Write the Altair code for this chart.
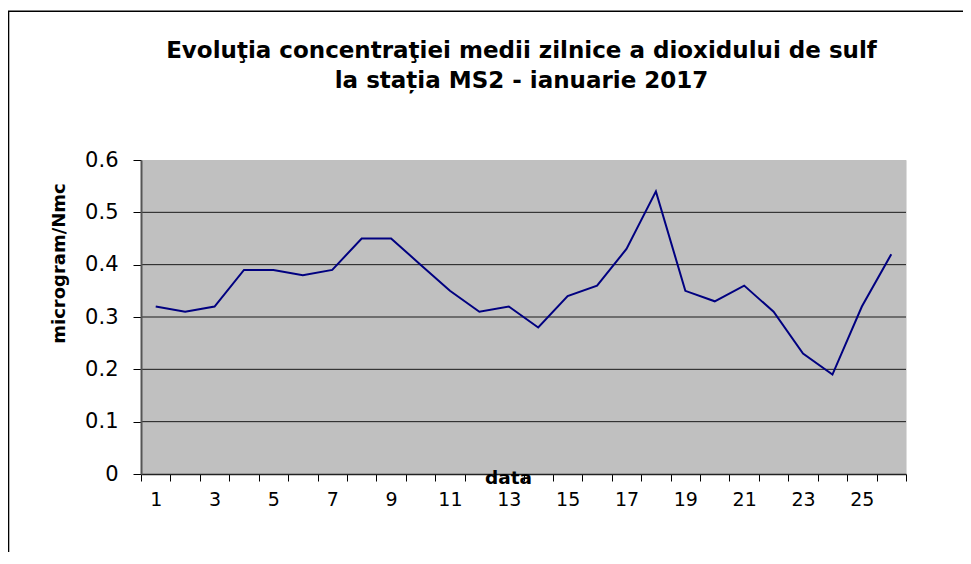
import altair as alt
import pandas as pd

# ---- data ----
days = list(range(1, 27))
so2 = [0.32, 0.31, 0.32, 0.39, 0.39, 0.38, 0.39, 0.45, 0.45, 0.40,
       0.35, 0.31, 0.32, 0.28, 0.34, 0.36, 0.43, 0.54, 0.35, 0.33,
       0.36, 0.31, 0.23, 0.19, 0.32, 0.42]
y_ticks = [0, 0.1, 0.2, 0.3, 0.4, 0.5, 0.6]
grid_vals = [0.1, 0.2, 0.3, 0.4, 0.5]
title_lines = ["Evoluţia concentraţiei medii zilnice a dioxidului de sulf",
               "la stația MS2 - ianuarie 2017"]
x_title = "data"
y_title = "microgram/Nmc"

df = pd.DataFrame({"day": days, "val": so2})
grid_df = pd.DataFrame({"val": grid_vals})

W, H = 765, 314
PL, PT, PR, PB = 133, 152, 57, 78
FONT = "DejaVu Sans"

one = pd.DataFrame({"k": [0]})

y_scale = alt.Scale(domain=[0, 0.6], nice=False, zero=True)
y_axis = alt.Axis(
    title=y_title,
    values=y_ticks,
    format=".1~f",
    grid=False,
    zindex=1,
    tickSize=8,
    tickColor="#000000",
    domainColor="#555555",
    domainWidth=2,
    labelFont=FONT,
    labelFontSize=21,
    labelColor="#000000",
    labelPadding=15,
    titleFont=FONT,
    titleFontSize=18,
    titleFontWeight="bold",
    titleColor="#000000",
    titleX=-81.5,
    titleY=103,
    titleBaseline="middle",
    titleAlign="center",
)

# plot-area background
bg = alt.Chart(one).mark_rect(fill="#C0C0C0", stroke=None).encode(
    x=alt.value(0), x2=alt.value(W), y=alt.value(0), y2=alt.value(H)
)

# horizontal gridlines (above the background)
grid = alt.Chart(grid_df).mark_rule(color="#1a1a1a", strokeWidth=1).encode(
    y=alt.Y("val:Q", scale=y_scale, axis=y_axis)
)

line = alt.Chart(df).mark_line(color="#000080", strokeWidth=2).encode(
    x=alt.X(
        "day:O",
        scale=alt.Scale(type="band", paddingInner=0, paddingOuter=0),
        axis=alt.Axis(
            title=x_title,
            labelExpr="datum.value % 2 == 1 ? datum.label : ''",
            labelAngle=0,
            labelOverlap=False,
            tickBand="extent",
            grid=False,
            zindex=1,
            tickSize=7,
            tickColor="#000000",
            domainColor="#222222",
            domainWidth=1.5,
            labelFont=FONT,
            labelFontSize=19,
            labelColor="#000000",
            labelPadding=9,
            titleFont=FONT,
            titleFontSize=18.5,
            titleFontWeight="bold",
            titleColor="#000000",
            titleX=367,
            titleY=3,
            titleBaseline="middle",
            titleAlign="center",
        ),
    ),
    y=alt.Y("val:Q", scale=y_scale, axis=y_axis),
)

# chart title, two centred lines
title1 = alt.Chart(one).mark_text(
    font=FONT, fontSize=23, fontWeight="bold", color="#000000",
    align="center", baseline="alphabetic"
).encode(x=alt.value(380.5), y=alt.value(-102), text=alt.value(title_lines[0]))
title2 = alt.Chart(one).mark_text(
    font=FONT, fontSize=23, fontWeight="bold", color="#000000",
    align="center", baseline="alphabetic"
).encode(x=alt.value(380.5), y=alt.value(-72), text=alt.value(title_lines[1]))

# outer chart frame (left and top edges)
left_edge = alt.Chart(one).mark_rule(color="#000000", strokeWidth=1.6).encode(
    x=alt.value(-132.5), y=alt.value(-148.8), y2=alt.value(H + PB)
)
top_edge = alt.Chart(one).mark_rule(color="#000000", strokeWidth=1.6).encode(
    x=alt.value(-133), x2=alt.value(W + PR), y=alt.value(-148.8)
)

chart = alt.layer(bg, grid, left_edge, top_edge, title1, title2, line).properties(
    width=W,
    height=H,
    padding={"left": PL, "top": PT, "right": PR, "bottom": PB},
    autosize=alt.AutoSizeParams(type="none"),
).configure_view(
    stroke="#808080", strokeWidth=2
).configure(background="#ffffff")

chart.save("out.html", embed_options={"renderer": "svg", "actions": False})
